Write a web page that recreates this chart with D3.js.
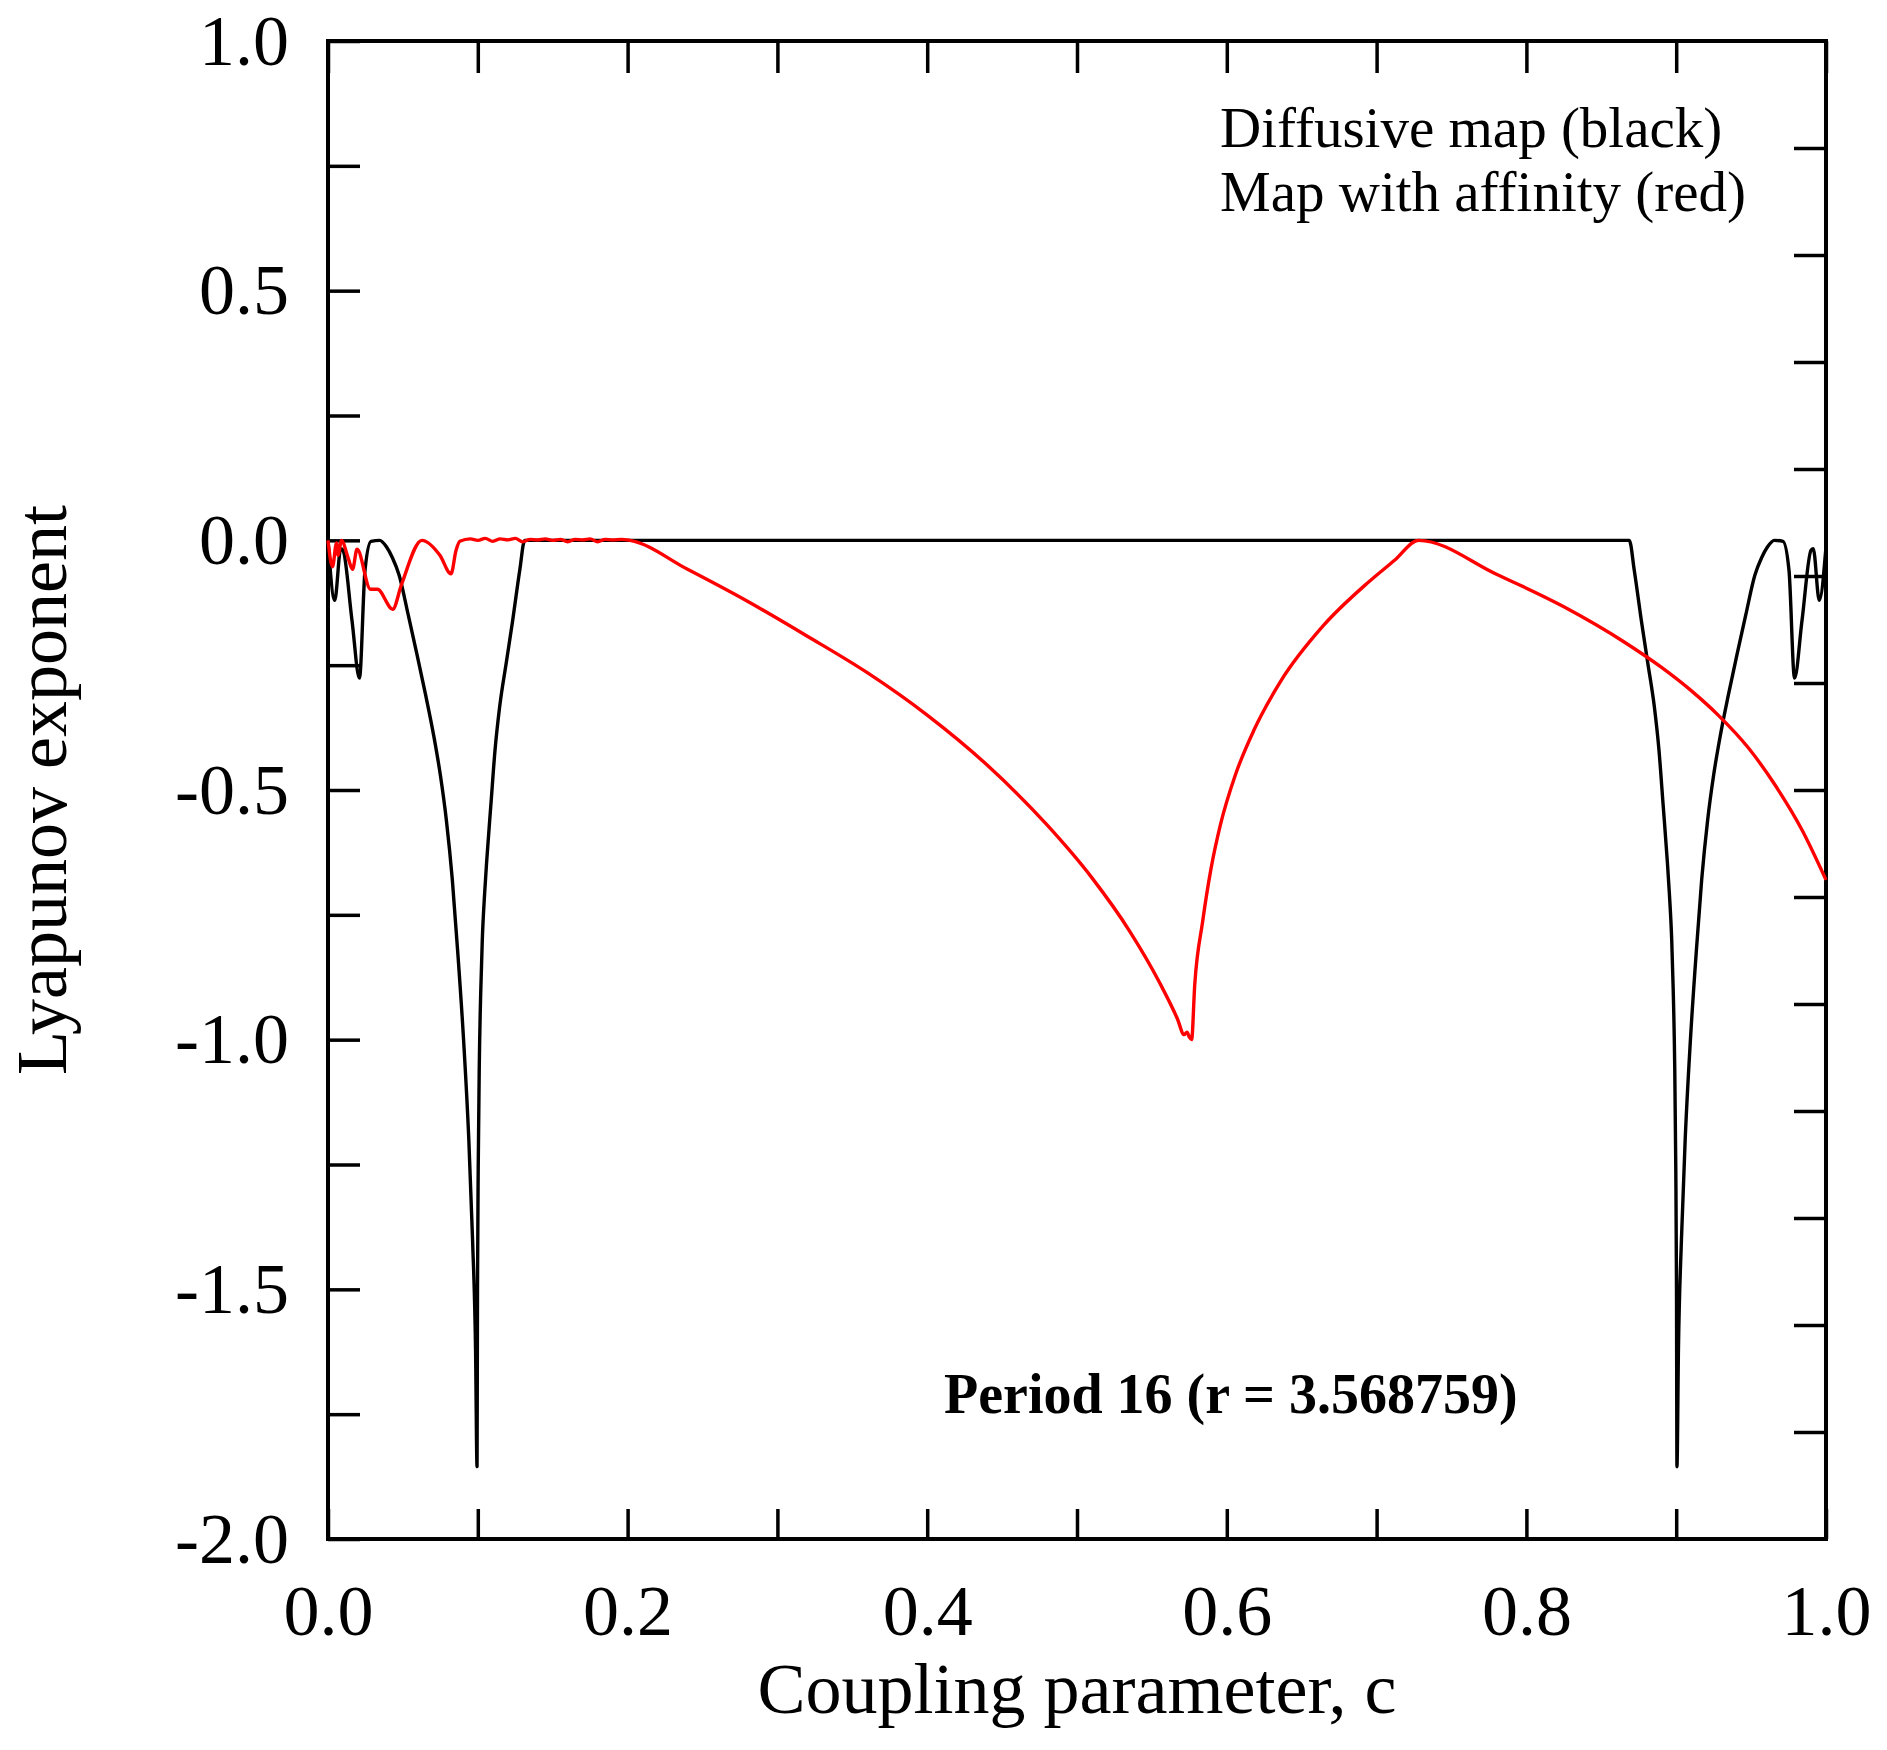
<!DOCTYPE html>
<html>
<head>
<meta charset="utf-8">
<script src="https://cdn.jsdelivr.net/npm/d3@7"></script>
<style>
  body { margin: 0; background: #fff; }
  svg { display: block; }
  .axis path { display: none; }
  .axis line { stroke: #000; stroke-width: 3.5; }
  .axis text { font-family: "Liberation Serif", "Times New Roman", serif; font-size: 72px; fill: #000; }
</style>
</head>
<body>
<div id="chart"></div>
<script>
// diffusive map (black)
var cBlack = [0, 0.0045, 0.0085, 0.010, 0.016, 0.021, 0.0247, 0.0287, 0.0345, 0.039, 0.043, 0.0475,
    0.0536, 0.0595, 0.0652, 0.0705, 0.075, 0.079, 0.083, 0.0865, 0.0905, 0.094, 0.0965, 0.0985, 0.0995,
    0.0998, 0.1003, 0.101, 0.102, 0.103, 0.1045, 0.106, 0.1088, 0.1115, 0.1146, 0.119, 0.1233, 0.128, 0.1313,
    0.2, 0.3, 0.4, 0.5, 0.6, 0.7, 0.8, 0.8687,
    0.872, 0.8767, 0.881, 0.8854, 0.8885, 0.8912, 0.894, 0.8955, 0.897, 0.898, 0.899, 0.8997, 0.9002, 0.9005,
    0.9015, 0.9035, 0.906, 0.9095, 0.9135, 0.917, 0.921, 0.925, 0.9295, 0.9348, 0.9405, 0.9464, 0.9525, 0.957,
    0.961, 0.9655, 0.9713, 0.9753, 0.979, 0.984, 0.990, 0.9915, 0.9955, 1.0];
var lyapBlack = [0, -0.12, -0.017, -0.02, -0.16, -0.276, -0.06, -0.002, 0, -0.013, -0.035, -0.07,
    -0.15, -0.23, -0.31, -0.39, -0.47, -0.56, -0.68, -0.82, -1.0, -1.2, -1.4, -1.62, -1.855,
    -1.5, -1.25, -1.05, -0.90, -0.80, -0.71, -0.64, -0.527, -0.42, -0.333, -0.245, -0.16, -0.06, 0,
    0, 0, 0, 0, 0, 0, 0, 0,
    -0.06, -0.16, -0.245, -0.333, -0.42, -0.527, -0.64, -0.71, -0.80, -0.90, -1.05, -1.25, -1.5, -1.855,
    -1.62, -1.4, -1.2, -1.0, -0.82, -0.68, -0.56, -0.47, -0.39, -0.31, -0.23, -0.15, -0.07, -0.035,
    -0.013, 0, -0.002, -0.06, -0.276, -0.16, -0.02, -0.017, -0.12, -0.013];

// map with affinity (red)
var cRed = [0, 0.003, 0.0057, 0.0067, 0.009, 0.0134, 0.0164, 0.0194, 0.0284, 0.033, 0.0432, 0.049,
    0.0627, 0.0747, 0.0821, 0.0855, 0.088,
    0.095, 0.100, 0.105, 0.110, 0.115, 0.120, 0.125, 0.130, 0.135, 0.140, 0.145, 0.150, 0.155,
    0.160, 0.165, 0.170, 0.175, 0.180, 0.185, 0.190, 0.196, 0.2016,
    0.24, 0.28, 0.32, 0.36, 0.40, 0.44, 0.48, 0.51, 0.535, 0.555, 0.567, 0.5715,
    0.5735, 0.575, 0.5765, 0.5786, 0.5838, 0.5895, 0.5958, 0.6057, 0.6183, 0.6356, 0.6647, 0.6937, 0.712, 0.728,
    0.78, 0.825, 0.865, 0.89, 0.91, 0.928, 0.948, 0.966, 0.984, 1.0];
var lyapRed = [0, -0.053, -0.005, -0.03, 0, -0.035, -0.058, -0.018, -0.098, -0.098, -0.138, -0.089,
    0, -0.03, -0.067, -0.02, -0.002,
    0.003, 0, 0.004, -0.002, 0.003, 0.001, 0.004, -0.003, 0.002, 0.001, 0.003, 0, 0.002,
    -0.003, 0.002, 0.001, 0.003, -0.003, 0.002, 0.001, 0.002, 0,
    -0.058, -0.122, -0.192, -0.265, -0.350, -0.450, -0.570, -0.676, -0.782, -0.885, -0.958, -0.99,
    -0.985, -0.995, -1.0, -0.89, -0.765, -0.657, -0.569, -0.47, -0.379, -0.284, -0.170, -0.086, -0.040, 0,
    -0.068, -0.133, -0.203, -0.254, -0.301, -0.350, -0.415, -0.49, -0.58, -0.68];

var xTicks = [0, 0.1, 0.2, 0.3, 0.4, 0.5, 0.6, 0.7, 0.8, 0.9, 1.0];
var xLabels = [0, 0.2, 0.4, 0.6, 0.8, 1.0];
var yTicks = [1, 0.75, 0.5, 0.25, 0, -0.25, -0.5, -0.75, -1, -1.25, -1.5, -1.75, -2];
var yLabels = [1, 0.5, 0, -0.5, -1, -1.5, -2];
var rightTicks = [1, 2, 3, 4, 5, 6, 7, 8, 9, 10, 11, 12, 13];

var margin = {top: 41, right: 61, bottom: 211, left: 328},
    width = 1887 - margin.left - margin.right,
    height = 1750 - margin.top - margin.bottom;

var svg = d3.select("#chart").append("svg")
    .attr("width", 1887)
    .attr("height", 1750)
    .append("g")
    .attr("transform", "translate(" + margin.left + "," + margin.top + ")");

var x = d3.scaleLinear().domain([0, 1]).range([0, width]);
var y = d3.scaleLinear().domain([-2, 1]).range([height, 0]);
var yRight = d3.scaleLinear().domain([0, 14]).range([0, height]);

function fmt(v) {
    return v.toFixed(1);
}

function isIn(list, v) {
    return list.some(function(d) { return Math.abs(d - v) < 1e-9; });
}

// bottom axis, inward ticks
svg.append("g")
    .attr("class", "axis")
    .attr("transform", "translate(0," + height + ")")
    .call(d3.axisBottom(x)
        .tickValues(xTicks)
        .tickSize(-30)
        .tickPadding(45)
        .tickFormat(function(d) { return isIn(xLabels, d) ? fmt(d) : ""; }));

svg.append("g")
    .attr("class", "axis")
    .call(d3.axisTop(x).tickValues(xTicks).tickSize(-32).tickFormat(""));

svg.append("g")
    .attr("class", "axis")
    .call(d3.axisLeft(y)
        .tickValues(yTicks)
        .tickSize(-32)
        .tickPadding(39)
        .tickFormat(function(d) { return isIn(yLabels, d) ? fmt(d) : ""; }));

svg.append("g")
    .attr("class", "axis")
    .attr("transform", "translate(" + width + ",0)")
    .call(d3.axisRight(yRight).tickValues(rightTicks).tickSize(-32).tickFormat(""));

// frame
svg.append("rect")
    .attr("width", width)
    .attr("height", height)
    .attr("fill", "none")
    .attr("stroke", "#000")
    .attr("stroke-width", 4);

var blackData = cBlack.map(function(c, i) { return {x: c, y: lyapBlack[i]}; });
var redData = cRed.map(function(c, i) { return {x: c, y: lyapRed[i]}; });

var line = d3.line()
    .curve(d3.curveMonotoneX)
    .x(function(d) { return x(d.x); })
    .y(function(d) { return y(d.y); });

svg.append("path")
    .datum(blackData)
    .attr("fill", "none")
    .attr("stroke", "#000")
    .attr("stroke-width", 3.4)
    .attr("stroke-linejoin", "round")
    .attr("d", line);

svg.append("path")
    .datum(redData)
    .attr("fill", "none")
    .attr("stroke", "#ff0000")
    .attr("stroke-width", 3.4)
    .attr("stroke-linejoin", "round")
    .attr("d", line);

var serif = '"Liberation Serif", "Times New Roman", serif';

// axis titles
svg.append("text")
    .attr("x", width / 2)
    .attr("y", 1713 - margin.top)
    .attr("text-anchor", "middle")
    .style("font-family", serif)
    .style("font-size", "72px")
    .text("Coupling parameter, c");

svg.append("text")
    .attr("transform", "translate(" + (66 - margin.left) + "," + height / 2 + ") rotate(-90)")
    .attr("text-anchor", "middle")
    .style("font-family", serif)
    .style("font-size", "72px")
    .text("Lyapunov exponent");

// legend notes
svg.append("text")
    .attr("x", 1220 - margin.left)
    .attr("y", 147 - margin.top)
    .style("font-family", serif)
    .style("font-size", "57px")
    .text("Diffusive map (black)");

svg.append("text")
    .attr("x", 1220 - margin.left)
    .attr("y", 211 - margin.top)
    .style("font-family", serif)
    .style("font-size", "57px")
    .text("Map with affinity (red)");

svg.append("text")
    .attr("x", 944 - margin.left)
    .attr("y", 1413 - margin.top)
    .style("font-family", serif)
    .style("font-size", "56px")
    .style("font-weight", "bold")
    .text("Period 16 (r = 3.568759)");
</script>
</body>
</html>
